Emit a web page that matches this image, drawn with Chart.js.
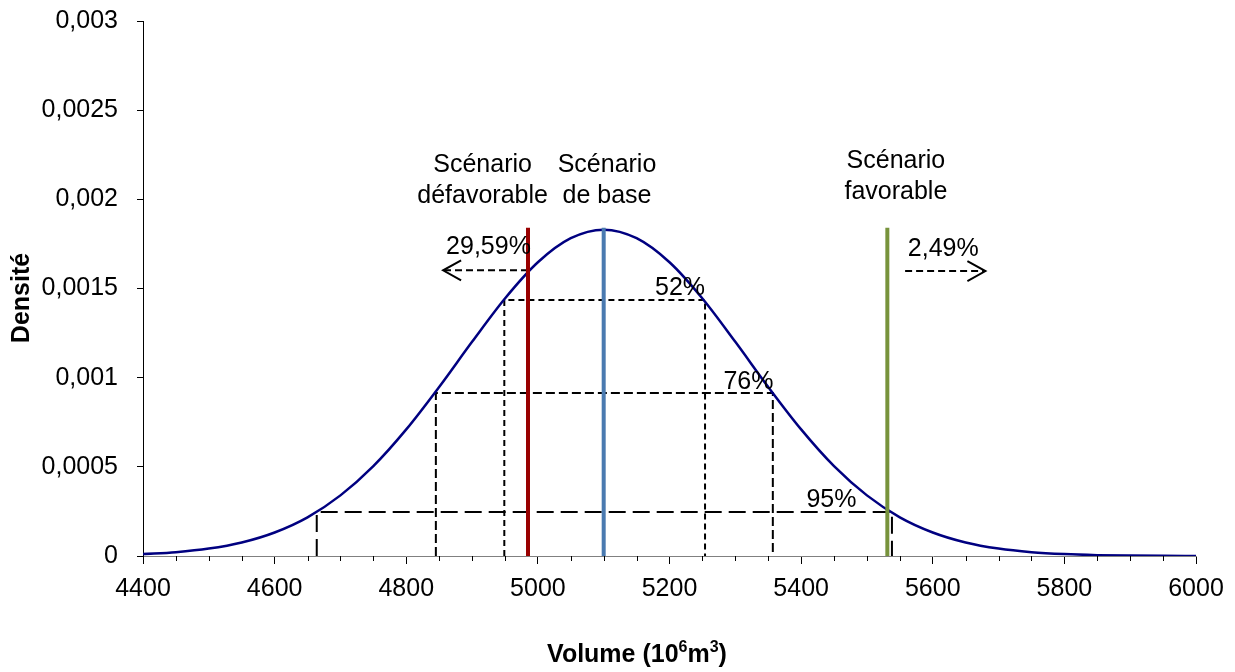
<!DOCTYPE html>
<html>
<head>
<meta charset="utf-8">
<script src="https://cdn.jsdelivr.net/npm/chart.js@4/dist/chart.umd.min.js"></script>
<style>
  html, body { margin: 0; padding: 0; background: #fff; }
  #wrap { width: 1235px; height: 672px; }
</style>
</head>
<body>
<div id="wrap"><canvas id="densityChart"></canvas></div>
<script>
// courbe de densité (volume en 10^6 m3)
const volumes = [4400, 4450, 4500, 4550, 4600, 4650, 4700, 4750, 4800, 4850, 4900, 4950, 5000, 5050, 5100,
  5150, 5200, 5250, 5300, 5350, 5400, 5450, 5500, 5550, 5600, 5650, 5700, 5750, 5800, 5850, 5900, 5950, 6000];
const density = [0.0000106, 0.0000215, 0.0000415, 0.0000759, 0.000132, 0.000217, 0.000340, 0.000504, 0.000710,
  0.000948, 0.001201, 0.001444, 0.001647, 0.001782, 0.001830, 0.001782, 0.001647, 0.001444, 0.001201, 0.000948,
  0.000710, 0.000504, 0.000340, 0.000217, 0.000132, 0.0000759, 0.0000415, 0.0000215, 0.0000106, 0.0000049,
  0.0000022, 0.0000009, 0.0000004];

// scénarios
const scenarioNames = [["Scénario", "défavorable"], ["Scénario", "de base"], ["Scénario", "favorable"]];
const scenarioVolumes = [4985, 5100, 5531];
const scenarioTop = 0.00184;

// intervalles de confiance
const intervalLabels = ["52%", "76%", "95%"];
const intervalLow = [4949, 4845, 4664];
const intervalHigh = [5254, 5357, 5538];
const intervalDensity = [0.001435, 0.000914, 0.000247];

// probabilités des queues
const tailLabels = ["29,59%", "2,49%"];
const tailFrom = [4985, 5558];
const tailTo = [4856, 5680];
const tailDensity = [0.001602, 0.001598];

// axes
const xMin = 4400, xMax = 6000, xMajor = 200, xMinor = 50;
const yMin = 0, yMax = 0.003, yStep = 0.0005;

// styles et placement des textes (séparés des données)
const scenarioColors = ["#990000", "#4A7AB0", "#77933C"];
const intervalDash = [[6, 4], [9, 4], [17, 7]];
const scenarioNotePos = [[4916, 0.002192], [5105, 0.002192], [5544, 0.002214]];
const intervalNotePos = [[5216, 0.001502], [5320, 0.000975], [5446, 0.000314]];
const tailNotePos = [[4925, 0.001732], [5616, 0.001721]];
const FONT = '"Liberation Sans", Arial, sans-serif';

const datasets = [];
datasets.push({
  data: volumes.map((v, i) => ({ x: v, y: density[i] })),
  borderColor: "#000080", borderWidth: 2.5, pointRadius: 0,
  cubicInterpolationMode: "monotone", order: 1
});
scenarioVolumes.forEach((v, i) => {
  datasets.push({
    data: [{ x: v, y: 0 }, { x: v, y: scenarioTop }],
    borderColor: scenarioColors[i], borderWidth: 4, pointRadius: 0, order: 0
  });
});
intervalLabels.forEach((lab, i) => {
  datasets.push({
    data: [{ x: intervalLow[i], y: 0 }, { x: intervalLow[i], y: intervalDensity[i] },
           { x: intervalHigh[i], y: intervalDensity[i] }, { x: intervalHigh[i], y: 0 }],
    borderColor: "#000", borderWidth: 2, borderDash: intervalDash[i], pointRadius: 0, order: 2
  });
});
tailLabels.forEach((lab, i) => {
  datasets.push({
    data: [{ x: tailFrom[i], y: tailDensity[i] }, { x: tailTo[i], y: tailDensity[i] }],
    borderColor: "#000", borderWidth: 2, borderDash: [7, 4], pointRadius: 0, order: 2
  });
});

// texte avec exposants : [texte, exposant?]
function drawRichText(ctx, parts, cx, cy, size) {
  const big = "bold " + size + "px " + FONT, small = "bold " + Math.round(size * 0.62) + "px " + FONT;
  let w = 0;
  parts.forEach(p => { ctx.font = p[1] ? small : big; w += ctx.measureText(p[0]).width; });
  let x = cx - w / 2;
  ctx.textAlign = "left";
  parts.forEach(p => {
    ctx.font = p[1] ? small : big;
    ctx.fillText(p[0], x, p[1] ? cy - size * 0.3 : cy);
    x += ctx.measureText(p[0]).width;
  });
  ctx.textAlign = "center";
}

const notesPlugin = {
  id: "notes",
  afterDatasetsDraw(chart) {
    const ctx = chart.ctx, xs = chart.scales.x, ys = chart.scales.y;
    ctx.save();
    ctx.fillStyle = "#000";
    ctx.textAlign = "center";
    ctx.textBaseline = "middle";
    ctx.font = "25px " + FONT;
    scenarioNames.forEach((lines, i) => {
      const px = xs.getPixelForValue(scenarioNotePos[i][0]);
      const py = ys.getPixelForValue(scenarioNotePos[i][1]);
      lines.forEach((t, k) => ctx.fillText(t, px, py + k * 31));
    });
    intervalLabels.forEach((t, i) => {
      ctx.fillText(t, xs.getPixelForValue(intervalNotePos[i][0]), ys.getPixelForValue(intervalNotePos[i][1]));
    });
    tailLabels.forEach((t, i) => {
      ctx.fillText(t, xs.getPixelForValue(tailNotePos[i][0]), ys.getPixelForValue(tailNotePos[i][1]));
      // pointe de flèche
      const tip = xs.getPixelForValue(tailTo[i]);
      const dir = tailTo[i] > tailFrom[i] ? 1 : -1;
      const py = ys.getPixelForValue(tailDensity[i]);
      ctx.beginPath();
      ctx.lineWidth = 2;
      ctx.strokeStyle = "#000";
      ctx.moveTo(tip - dir * 18, py - 10);
      ctx.lineTo(tip, py);
      ctx.lineTo(tip - dir * 18, py + 10);
      ctx.stroke();
    });
    // graduations secondaires de l'axe x
    ctx.beginPath();
    ctx.lineWidth = 1;
    xs.ticks.forEach(tk => {
      if (tk.value % xMajor !== 0) {
        const px = Math.round(xs.getPixelForValue(tk.value)) + 0.5;
        ctx.moveTo(px, xs.top);
        ctx.lineTo(px, xs.top + 5);
      }
    });
    ctx.stroke();
    // titre de l'axe x
    drawRichText(ctx, [["Volume (10"], ["6", true], ["m"], ["3", true], [")"]], 637, 655, 25);
    // titre de l'axe y
    ctx.translate(22, 298);
    ctx.rotate(-Math.PI / 2);
    ctx.font = "bold 25px " + FONT;
    ctx.fillText("Densité", 0, 0);
    ctx.restore();
  }
};

new Chart(document.getElementById("densityChart"), {
  type: "line",
  data: { datasets },
  options: {
    responsive: true,
    maintainAspectRatio: false,
    animation: false,
    layout: { padding: { left: 0, top: 21, right: 39, bottom: 0 } },
    plugins: { legend: { display: false }, tooltip: { enabled: false } },
    scales: {
      x: {
        type: "linear", min: xMin, max: xMax,
        afterFit: s => { s.height = 116; s.paddingLeft = 0; s.paddingRight = 0; },
        border: { display: true, color: "#808080", width: 1 },
        grid: {
          drawOnChartArea: false, drawTicks: true, tickLength: 8,
          tickColor: c => (c.tick && c.tick.value % xMajor === 0) ? "#000" : "rgba(0,0,0,0)"
        },
        ticks: {
          stepSize: xMinor, autoSkip: false, maxRotation: 0, padding: 10,
          color: "#000", font: { family: FONT, size: 25 },
          callback: v => (v % xMajor === 0 ? String(v) : "")
        }
      },
      y: {
        min: yMin, max: yMax,
        afterFit: s => { s.width = 143; s.paddingTop = 0; s.paddingBottom = 0; },
        border: { display: true, color: "#000", width: 1 },
        grid: { drawOnChartArea: false, drawTicks: true, tickLength: 6, tickColor: "#000" },
        ticks: {
          stepSize: yStep, padding: 19, color: "#000", font: { family: FONT, size: 25 },
          callback: v => Number(v.toFixed(4)).toString().replace(".", ",")
        }
      }
    }
  },
  plugins: [notesPlugin]
});
</script>
</body>
</html>
